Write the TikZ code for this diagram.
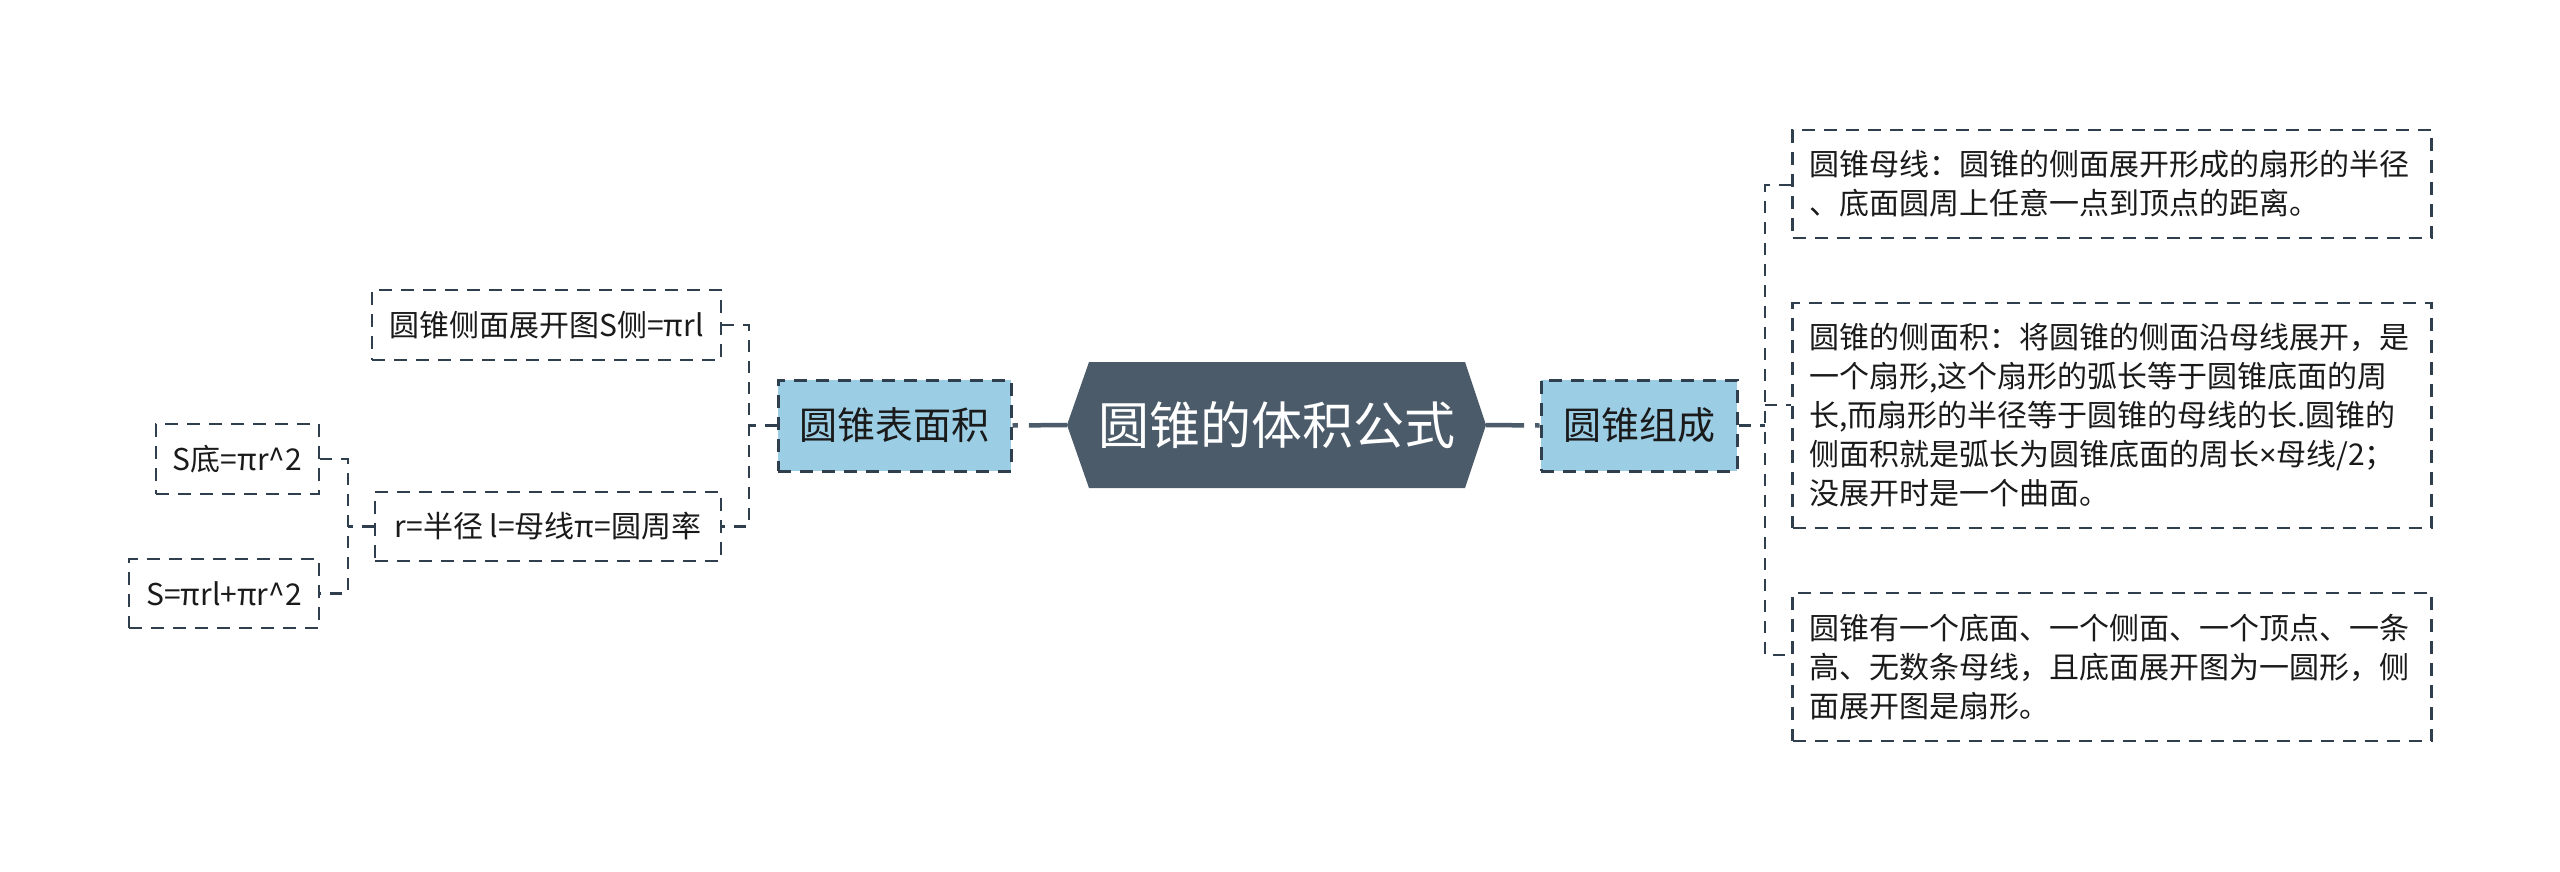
\documentclass[tikz,border=0pt]{standalone}
\usepackage{fontspec}
\setmainfont{Noto Sans CJK SC}
\newfontfamily\latinf{Liberation Sans}
\definecolor{hexc}{HTML}{4B5B6A}
\definecolor{lblue}{HTML}{9BCDE4}
\definecolor{lc}{HTML}{2F3F4D}
\definecolor{tc}{HTML}{1A1A1A}
\tikzset{
  leaf/.style={draw=lc, line width=2.8pt, dash pattern=on 13pt off 9pt, text=tc,
    inner sep=0pt, align=left, font=\fontsize{30}{39}\selectfont},
  lvl/.style={draw=lc, fill=lblue, line width=3pt, dash pattern=on 13pt off 9pt, text=tc,
    inner sep=0pt, font=\fontsize{38}{46}\selectfont, minimum height=91pt},
  rootnode/.style={inner sep=0pt, text=white, font=\fontsize{51}{60}\selectfont,
    minimum width=419pt, minimum height=126pt},
  conn/.style={draw=lc, line width=2.8pt, dash pattern=on 12pt off 9pt},
  mainconn/.style={draw=hexc, line width=4.5pt, dash pattern=on 38pt off 11pt}
}
\begin{document}
\begin{tikzpicture}[x=1pt,y=-1pt]
\useasboundingbox (0,0) rectangle (2560,871);
\fill[white] (0,0) rectangle (2560,871);
% root hexagon
\fill[hexc] (1067,425) -- (1089,362) -- (1465,362) -- (1486,425) -- (1465,488) -- (1089,488) -- cycle;
\node[rootnode] (root) at (1276.5,425) {圆锥的体积公式};
% level 1
\node[lvl, minimum width=233pt] (sa) at (894.5,425.5) {圆锥表面积};
\node[lvl, minimum width=196pt] (zc) at (1639,425.5) {圆锥组成};
% left leaves
\node[leaf, minimum width=349pt, minimum height=70pt, align=center] (a1) at (546.5,325) {圆锥侧面展开图S侧=πrl};
\node[leaf, minimum width=346pt, minimum height=69pt, align=center] (a2) at (548,526.5) {r=半径 l=母线π=圆周率};
\node[leaf, minimum width=163pt, minimum height=70pt, align=center] (b1) at (237.5,459) {S底=πr\^{}2};
\node[leaf, minimum width=190pt, minimum height=69pt, align=center] (b2) at (224,593.5) {S=πrl+πr\^{}2};
% right leaves
\node[leaf, text width=606pt, minimum width=639pt, minimum height=108pt] (r1) at (2112,184)
  {圆锥母线：圆锥的侧面展开形成的扇形的半径\\、底面圆周上任意一点到顶点的距离。};
\node[leaf, text width=606pt, minimum width=639pt, minimum height=225pt] (r2) at (2112,415.5)
  {圆锥的侧面积：将圆锥的侧面沿母线展开，是\\一个扇形,这个扇形的弧长等于圆锥底面的周\\长,而扇形的半径等于圆锥的母线的长.圆锥的\\侧面积就是弧长为圆锥底面的周长{\latinf ×}母线/2；\\没展开时是一个曲面。};
\node[leaf, text width=606pt, minimum width=639pt, minimum height=148pt] (r3) at (2112,667)
  {圆锥有一个底面、一个侧面、一个顶点、一条\\高、无数条母线，且底面展开图为一圆形，侧\\面展开图是扇形。};
% main connectors
\draw[mainconn] (root.west) -- (sa.east);
\draw[mainconn] (root.east) -- (zc.west);
% right connectors
\coordinate (rv) at (1765,425.5);
\draw[conn] (zc.east) -- (rv);
\draw[conn] (r1.west |- 0,185) -- (rv |- 0,185) -- (rv |- 0,655) -- (r3.west |- 0,655);
\draw[conn] (rv |- 0,405) -- (r2.west |- 0,405);
% left connectors
\coordinate (lv) at (749,425.5);
\draw[conn] (sa.west) -- (lv);
\draw[conn] (a1.east) -- (lv |- a1.east) -- (lv |- a2.east) -- (a2.east);
\coordinate (bv) at (348,526.5);
\draw[conn] (a2.west) -- (bv);
\draw[conn] (b1.east) -- (bv |- b1.east) -- (bv |- b2.east) -- (b2.east);
\end{tikzpicture}
\end{document}
